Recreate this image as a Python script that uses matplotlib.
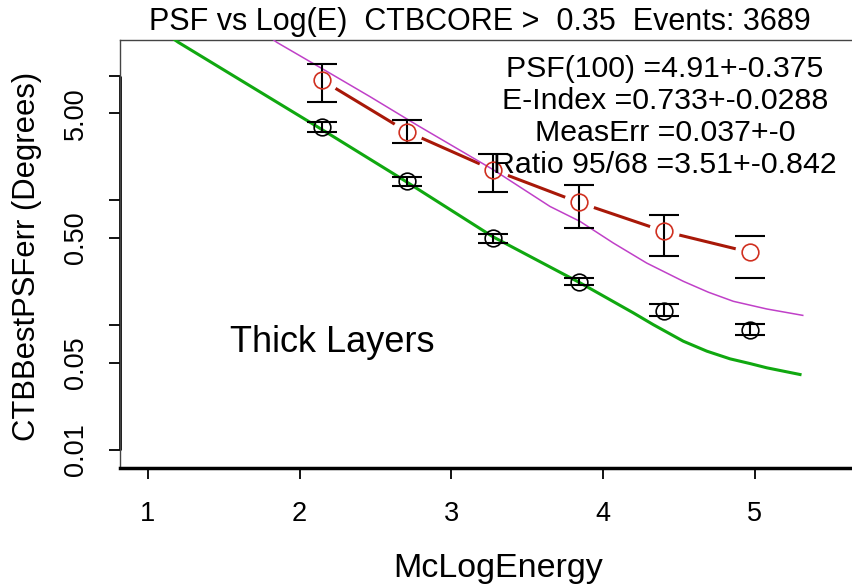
import matplotlib
matplotlib.use('Agg')
from matplotlib import pyplot
from matplotlib.ticker import NullLocator

pyplot.rcParams['font.family'] = ['Liberation Sans', 'DejaVu Sans']

# binned points (log energy bins)
bin_x = [2.146, 2.708, 3.275, 3.841, 4.403, 4.968]

# 68% containment (black circles)
psf68 = [3.89, 1.419, 0.500, 0.222, 0.131, 0.0923]
psf68_lo = [3.51, 1.30, 0.455, 0.21, 0.118, 0.084]
psf68_hi = [4.28, 1.55, 0.54, 0.24, 0.147, 0.1015]

# 95% containment (red circles)
psf95 = [9.23, 3.56, 1.76, 0.963, 0.565, 0.384]
psf95_lo = [6.19, 2.91, 1.16, 0.60, 0.36, 0.239]
psf95_hi = [12.5, 4.41, 2.36, 1.34, 0.76, 0.52]

# fitted curves
fit68_x = [1.18, 1.2016, 2.146, 2.662, 3.277, 3.850, 4.199, 4.331, 4.528, 4.683,
           4.836, 4.968, 5.078, 5.297]
fit68_y = [19.3, 18.5, 3.71, 1.52, 0.509, 0.218, 0.1256, 0.101, 0.0745, 0.062,
           0.0538, 0.0493, 0.0456, 0.0403]
fit95_x = [1.83, 1.850, 2.201, 2.464, 2.772, 3.277, 3.650, 3.848, 4.067, 4.287,
           4.528, 4.693, 4.858, 5.078, 5.315]
fit95_y = [19.3, 18.5, 10.45, 6.79, 4.03, 1.76, 0.895, 0.679, 0.456, 0.315,
           0.225, 0.184, 0.1555, 0.135, 0.120]

title = 'PSF vs Log(E)  CTBCORE >  0.35  Events: 3689'
fit_text = ['PSF(100) =4.91+-0.375', 'E-Index =0.733+-0.0288',
            'MeasErr =0.037+-0', 'Ratio 95/68 =3.51+-0.842']

W, H = 853, 587


def px(x, y):
    return x / W, 1 - y / H


def main():
    fig = pyplot.figure(figsize=(W / 100, H / 100), dpi=100)
    ax = fig.add_axes([120 / W, 1 - 468 / H, 1 - 120 / W, (468 - 40) / H])
    ax.set_yscale('log')
    ax.set_xlim(0.8175, 5.646)
    ax.set_ylim(0.00718, 19.3)

    # R style frame
    ax.spines['right'].set_visible(False)
    for s in ('top', 'left'):
        ax.spines[s].set_linewidth(1.0)
        ax.spines[s].set_color('#444444')
    ax.spines['bottom'].set_linewidth(2.5)
    ax.plot([0, 0], [0.01, 10], transform=ax.get_yaxis_transform(),
            color='black', lw=2, clip_on=False, solid_capstyle='butt')

    ax.set_xticks([1, 2, 3, 4, 5])
    ax.set_xticklabels(['1', '2', '3', '4', '5'])
    ax.set_yticks([0.01, 0.05, 0.1, 0.5, 1, 5, 10])
    ax.set_yticklabels(['0.01', '0.05', '', '0.50', '', '5.00', ''])
    ax.yaxis.set_minor_locator(NullLocator())
    ax.tick_params(direction='out', length=8, width=1.3, colors='black', labelsize=19.5)
    ax.tick_params(axis='x', pad=16)
    ax.tick_params(axis='y', pad=14, labelrotation=90)
    for lab in ax.get_yticklabels():
        lab.set_verticalalignment('center')

    # red connecting line with gaps around points
    ax.plot(bin_x, psf95, '-', color='#a81808', lw=2.2, zorder=2)
    ax.plot(bin_x, psf95, 'o', ms=22, mfc='white', mec='none', zorder=2.1)

    ax.plot(fit68_x, fit68_y, '-', color='#10a810', lw=2.2, zorder=3)
    ax.plot(fit95_x, fit95_y, '-', color='#c040c8', lw=1.1, zorder=3)

    err68 = [[a - b for a, b in zip(psf68, psf68_lo)], [b - a for a, b in zip(psf68, psf68_hi)]]
    err95 = [[a - b for a, b in zip(psf95, psf95_lo)], [b - a for a, b in zip(psf95, psf95_hi)]]
    ax.errorbar(bin_x, psf68, yerr=err68, fmt='none', ecolor='black',
                elinewidth=1.5, capsize=11, capthick=1.5, zorder=4)
    ax.errorbar(bin_x[:-1], psf95[:-1], yerr=[e[:-1] for e in err95], fmt='none',
                ecolor='black', elinewidth=1.5, capsize=11, capthick=1.5, zorder=4)
    # last bin: only the caps are visible
    ax.errorbar(bin_x[-1:], psf95[-1:], yerr=[e[-1:] for e in err95], fmt='none',
                ecolor='black', elinewidth=0, capsize=11, capthick=1.5, zorder=4)

    ax.plot(bin_x, psf68, 'o', ms=12, mfc='none', mec='black', mew=1.2, zorder=5)
    ax.plot(bin_x, psf95, 'o', ms=12, mfc='none', mec='#d03020', mew=1.2, zorder=5)

    # annotations
    for i, line in enumerate(fit_text):
        fig.text(*px(665, 76.7 + 32.2 * i), line, fontsize=21.8,
                 ha='center', va='baseline')
    fig.text(*px(230, 352.3), 'Thick Layers', fontsize=26, ha='left', va='baseline')

    fig.text(*px(480, 30), title, fontsize=22, ha='center', va='baseline',
             family=['Liberation Sans Narrow', 'Liberation Sans'])
    fig.text(*px(498, 577), 'McLogEnergy', fontsize=24.5, ha='center', va='baseline')
    fig.text(*px(27, 256), 'CTBBestPSFerr (Degrees)', fontsize=22.3,
             rotation=90, ha='center', va='center')

    fig.savefig('out.png', dpi=100)


if __name__ == '__main__':
    main()
